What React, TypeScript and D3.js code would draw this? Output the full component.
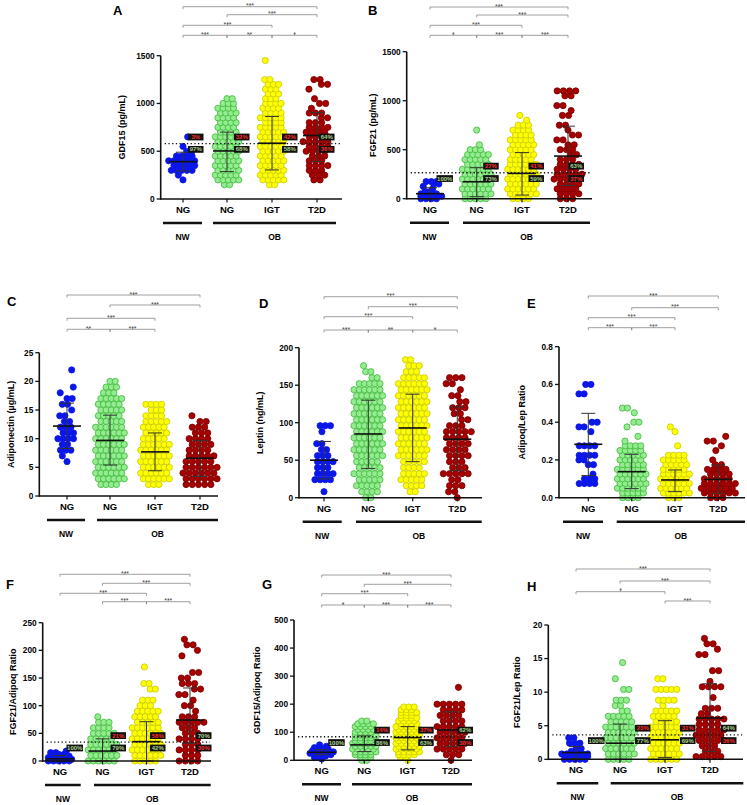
import React from 'react'
import * as d3 from 'd3'

type Rows = { start: number; step: number; counts: number[] }
type Sig = [number, number, string, number]

const FONT = '"Liberation Sans", Arial, Helvetica, sans-serif'
const GROUP_LABELS = ['NG', 'NG', 'IGT', 'T2D']
const DOT_FILL = ['#0b16e8', '#93ec8f', '#ffff00', '#a60000']
const DOT_STROKE = ['#0b16e8', '#3fb83a', '#c8c800', '#7a0000']
const RED_TXT = '#ff2b2b'
const GREEN_TXT = '#a9d18e'

// horizontal gap between dots in a row, per group
const SPACING = [5.2, 5.2, 5.2, 6.2]
const R = 3.1
// horizontal nudges for rows holding only one or two dots
const SPARSE = [0, -0.9, 0.9, -0.4, 0.5, -1.3, 1.2]

// ---- A: GDF15 (pg/mL) ----
const gdf15Rows: Rows[] = [
  { start: 200, step: 50, counts: [1, 1, 5, 5, 6, 4, 2, 1, 0, 1] },
  { start: 150, step: 50, counts: [2, 5, 5, 5, 5, 5, 5, 5, 5, 5, 5, 4, 4, 4, 4, 4, 4, 3, 2] },
  { start: 150, step: 50, counts: [2, 5, 5, 5, 5, 5, 5, 5, 5, 5, 5, 5, 5, 4, 5, 4, 4, 4, 3, 3, 3, 3, 2, 0, 0, 0, 1] },
  { start: 200, step: 50, counts: [2, 3, 3, 4, 3, 3, 4, 4, 5, 4, 4, 4, 3, 2, 3, 1, 2, 1, 0, 1, 2, 2] },
]
const gdf15Mid = [391, 503, 584, 664]
const gdf15Lo = [294, 287, 304, 392]
const gdf15Hi = [490, 700, 864, 906]
const gdf15Cut = 580
const gdf15Pct = [['3%', '97%'], ['32%', '68%'], ['42%', '58%'], ['64%', '36%']]
const gdf15Sig: Sig[] = [[0, 3, '***', 0], [1, 3, '***', 1], [0, 2, '***', 2], [0, 1, '***', 3], [1, 2, '**', 3], [2, 3, '*', 3]]

// ---- B: FGF21 (pg/mL) ----
const fgf21Rows: Rows[] = [
  { start: 0, step: 25, counts: [4, 5, 4, 2, 1, 1, 2, 3] },
  { start: 0, step: 50, counts: [5, 6, 6, 6, 6, 6, 6, 5, 5, 5, 3, 1, 0, 0, 1] },
  { start: 0, step: 50, counts: [4, 6, 6, 6, 6, 6, 6, 6, 5, 5, 5, 5, 5, 4, 4, 3, 1, 1] },
  { start: 0, step: 50, counts: [3, 4, 4, 4, 5, 5, 4, 4, 3, 2, 3, 2, 2, 2, 1, 2, 0, 2, 1, 2, 0, 2, 4] },
]
const fgf21Mid = [51, 173, 258, 435]
const fgf21Lo = [0, 20, 37, 135]
const fgf21Hi = [112, 316, 470, 740]
const fgf21Cut = 265
const fgf21Pct = [['', '100%'], ['27%', '73%'], ['41%', '59%'], ['63%', '37%']]
const fgf21Sig: Sig[] = [[0, 3, '***', 0], [1, 3, '***', 1], [0, 2, '***', 2], [0, 1, '*', 3], [1, 2, '***', 3], [2, 3, '***', 3]]

// ---- C: Adiponectin (µg/mL) ----
const adipoRows: Rows[] = [
  { start: 6, step: 1, counts: [1, 1, 3, 2, 4, 3, 3, 2, 2, 1, 2, 2, 1, 1, 0, 0, 1] },
  { start: 2, step: 1, counts: [4, 6, 6, 6, 6, 6, 6, 6, 6, 6, 6, 5, 5, 5, 5, 5, 3, 3, 2] },
  { start: 2, step: 1, counts: [3, 6, 6, 6, 6, 6, 6, 6, 5, 5, 5, 5, 4, 3, 4] },
  { start: 2, step: 1, counts: [5, 6, 6, 6, 5, 5, 4, 4, 4, 3, 3, 2, 1] },
]
const adipoMid = [12.2, 9.7, 7.7, 6.6]
const adipoLo = [8.3, 5.4, 4.4, 3.4]
const adipoHi = [16.2, 14.1, 11.0, 9.7]
const adipoSig: Sig[] = [[0, 3, '***', 0], [1, 3, '***', 1], [0, 2, '***', 2], [0, 1, '**', 3], [1, 2, '***', 3]]

// ---- D: Leptin (ng/mL) ----
const leptinRows: Rows[] = [
  { start: 8, step: 8, counts: [1, 0, 4, 4, 3, 4, 3, 2, 2, 0, 1, 3] },
  { start: 0, step: 8, counts: [2, 4, 5, 5, 6, 5, 5, 6, 6, 6, 6, 6, 6, 6, 6, 6, 6, 6, 6, 5, 2, 2, 1] },
  { start: 8, step: 8, counts: [2, 4, 5, 5, 4, 5, 6, 6, 6, 6, 6, 6, 6, 6, 6, 6, 6, 6, 6, 5, 3, 3, 2] },
  { start: 0, step: 8, counts: [1, 2, 3, 2, 5, 3, 3, 4, 4, 4, 4, 5, 3, 2, 2, 3, 2, 2, 1, 2, 3] },
]
const leptinMid = [50, 85, 93, 78]
const leptinLo = [25, 39, 48, 36]
const leptinHi = [75, 130, 138, 121]
const leptinSig: Sig[] = [[0, 3, '***', 0], [1, 3, '***', 1], [0, 2, '***', 2], [0, 1, '***', 3], [1, 2, '**', 3], [2, 3, '*', 3]]

// ---- E: Adipoq/Lep Ratio ----
const alRows: Rows[] = [
  { start: 0.075, step: 0.025, counts: [4, 3, 1, 0, 2, 2, 4, 0, 4, 0, 0, 1, 2, 2, 0, 0, 0, 0, 0, 2, 0, 2] },
  { start: 0, step: 0.025, counts: [4, 5, 6, 6, 6, 6, 6, 5, 5, 5, 5, 4, 1, 1, 0, 1, 2, 0, 1, 2] },
  { start: 0, step: 0.025, counts: [3, 6, 6, 6, 6, 6, 5, 5, 5, 4, 0, 1, 0, 0, 1, 1] },
  { start: 0, step: 0.025, counts: [3, 6, 6, 6, 5, 4, 4, 2, 1, 0, 1, 1, 2, 1] },
]
const alMid = [0.283, 0.138, 0.094, 0.097]
const alLo = [0.117, 0.048, 0.032, 0.023]
const alHi = [0.447, 0.23, 0.147, 0.173]
const alSig: Sig[] = [[0, 3, '***', 0], [1, 3, '***', 1], [0, 2, '***', 2], [0, 1, '***', 3], [1, 2, '***', 3]]

// ---- F: FGF21/Adipoq Ratio ----
const faRows: Rows[] = [
  { start: 0, step: 3, counts: [5, 5, 5, 4, 3, 2, 1] },
  { start: 0, step: 10, counts: [6, 6, 6, 6, 5, 5, 4, 3, 1] },
  { start: 0, step: 10, counts: [5, 6, 6, 6, 6, 6, 6, 5, 5, 5, 3, 3, 0, 2, 2, 0, 0, 1] },
  { start: 0, step: 10, counts: [4, 3, 4, 3, 4, 3, 3, 5, 3, 1, 2, 1, 2, 2, 3, 2, 2, 0, 0, 1, 1, 2, 1] },
]
const faMid = [4, 18, 35, 74]
const faLo = [0, 0, 0, 32]
const faHi = [10, 40, 71, 132]
const faCut = 34
const faPct = [['', '100%'], ['21%', '79%'], ['58%', '42%'], ['70%', '30%']]
const faSig: Sig[] = [[0, 3, '***', 0], [1, 3, '***', 1], [0, 2, '***', 2], [1, 2, '***', 3], [2, 3, '***', 3]]

// ---- G: GDF15/Adipoq Ratio ----
const gaRows: Rows[] = [
  { start: 5, step: 5, counts: [1, 2, 3, 4, 5, 5, 4, 3, 2, 1, 1] },
  { start: 0, step: 10, counts: [2, 3, 4, 5, 5, 5, 5, 5, 4, 5, 4, 4, 4, 4, 2] },
  { start: 0, step: 10, counts: [1, 2, 4, 5, 5, 5, 5, 5, 5, 5, 5, 5, 5, 4, 4, 4, 3, 4, 3, 3] },
  { start: 0, step: 20, counts: [1, 3, 5, 5, 5, 5, 5, 4, 4, 4, 5, 0, 0, 1] },
]
const gaMid = [28.5, 55, 81, 108]
const gaLo = [20, 31, 37, 49]
const gaHi = [38, 87, 120, 173]
const gaCut = 84
const gaPct = [['', '100%'], ['14%', '86%'], ['37%', '63%'], ['62%', '38%']]
const gaSig: Sig[] = [[0, 3, '***', 0], [1, 3, '***', 1], [0, 2, '***', 2], [0, 1, '*', 3], [1, 2, '***', 3], [2, 3, '***', 3]]

// ---- H: FGF21/Lep Ratio ----
const flRows: Rows[] = [
  { start: 0, step: 0.4, counts: [5, 5, 6, 2, 2, 0, 3, 0, 2] },
  { start: 0, step: 0.8, counts: [5, 6, 6, 6, 6, 6, 6, 5, 5, 2, 2, 3, 0, 2, 0, 1, 0, 0, 1] },
  { start: 0, step: 0.8, counts: [6, 6, 6, 6, 6, 6, 6, 5, 5, 5, 1, 4, 0, 5, 0, 2] },
  { start: 0.4, step: 0.8, counts: [5, 3, 3, 5, 5, 5, 4, 5, 2, 3, 0, 1, 0, 4, 1, 0, 2, 0, 0, 2, 1, 2, 1] },
]
const flMid = [1.0, 2.4, 2.9, 6.15]
const flLo = [0.1, 0, 0.25, 1.15]
const flHi = [1.9, 5.25, 5.75, 11.25]
const flCut = 3.65
const flPct = [['', '100%'], ['23%', '77%'], ['31%', '69%'], ['64%', '36%']]
const flSig: Sig[] = [[0, 3, '***', 0], [1, 3, '***', 1], [0, 2, '*', 2], [2, 3, '***', 3]]

type PanelDef = {
  letter: string
  title: string
  max: number
  tick: number
  fmt?: (v: number) => string
  rows: Rows[]
  mid: number[]
  lo: number[]
  hi: number[]
  cut?: number
  pct?: string[][]
  sig: Sig[]
  ax: number
  y0: number
  yTop: number
  cx: number[]
  xEnd: number
  nw: [number, number]
  ob: [number, number]
  letterPos: [number, number]
  titleX: number
  sigY: number[]
  boxDx?: number[]
}

const PANELS: PanelDef[] = [
  {
    letter: 'A', title: 'GDF15 (pg/mL)', max: 1500, tick: 500,
    rows: gdf15Rows, mid: gdf15Mid, lo: gdf15Lo, hi: gdf15Hi, cut: gdf15Cut, pct: gdf15Pct, sig: gdf15Sig,
    ax: 160.7, y0: 199, yTop: 55.7, cx: [183, 227, 272, 317], xEnd: 342,
    nw: [163, 202], ob: [213, 336], letterPos: [113, 15], titleX: 122,
    sigY: [6.7, 14.7, 25.3, 35.3], boxDx: [5, 7, 10, 2],
  },
  {
    letter: 'B', title: 'FGF21 (pg/mL)', max: 1500, tick: 500,
    rows: fgf21Rows, mid: fgf21Mid, lo: fgf21Lo, hi: fgf21Hi, cut: fgf21Cut, pct: fgf21Pct, sig: fgf21Sig,
    ax: 406.7, y0: 198.7, yTop: 51.7, cx: [430, 476.7, 522, 568], xEnd: 592,
    nw: [410, 449], ob: [463, 590], letterPos: [368, 15], titleX: 373,
    sigY: [7, 15, 25.3, 35.3], boxDx: [6.5, 6.5, 6.5, 0.5],
  },
  {
    letter: 'C', title: 'Adiponectin (µg/mL)', max: 25, tick: 5,
    rows: adipoRows, mid: adipoMid, lo: adipoLo, hi: adipoHi, sig: adipoSig,
    ax: 39.3, y0: 496, yTop: 352.7, cx: [67, 110, 155, 200], xEnd: 218,
    nw: [47, 85], ob: [97, 218], letterPos: [7, 306], titleX: 11,
    sigY: [295, 305, 318.3, 329.3],
  },
  {
    letter: 'D', title: 'Leptin (ng/mL)', max: 200, tick: 50,
    rows: leptinRows, mid: leptinMid, lo: leptinLo, hi: leptinHi, sig: leptinSig,
    ax: 299, y0: 497.7, yTop: 347.7, cx: [324, 368.3, 412.7, 457.3], xEnd: 482,
    nw: [302.7, 341.7], ob: [356, 481.7], letterPos: [259, 308], titleX: 260,
    sigY: [296.7, 306.7, 316.7, 330],
  },
  {
    letter: 'E', title: 'Adipoq/Lep Ratio', max: 0.8, tick: 0.2, fmt: d3.format('.1f'),
    rows: alRows, mid: alMid, lo: alLo, hi: alHi, sig: alSig,
    ax: 559, y0: 497.7, yTop: 346.7, cx: [588.3, 631.7, 675, 718.3], xEnd: 745,
    nw: [563, 603], ob: [616.7, 745], letterPos: [527, 308], titleX: 521.7,
    sigY: [296, 307.7, 317.7, 327.7],
  },
  {
    letter: 'F', title: 'FGF21/Adipoq Ratio', max: 250, tick: 50,
    rows: faRows, mid: faMid, lo: faLo, hi: faHi, cut: faCut, pct: faPct, sig: faSig,
    ax: 42.7, y0: 761, yTop: 622.7, cx: [60, 102.5, 146.5, 190], xEnd: 211,
    nw: [45, 80.7], ob: [94, 210.7], letterPos: [6, 589], titleX: 13,
    sigY: [574.3, 583.3, 593.3, 601.7], boxDx: [6.5, 8, 3.5, 6],
  },
  {
    letter: 'G', title: 'GDF15/Adipoq Ratio', max: 500, tick: 100,
    rows: gaRows, mid: gaMid, lo: gaLo, hi: gaHi, cut: gaCut, pct: gaPct, sig: gaSig,
    ax: 294, y0: 760.3, yTop: 620, cx: [321.7, 364.3, 407.7, 451], xEnd: 472,
    nw: [302, 341], ob: [352, 472], letterPos: [262, 589], titleX: 257,
    sigY: [575, 584.3, 593.7, 605], boxDx: [6.5, 10, 10.5, 6.5],
  },
  {
    letter: 'H', title: 'FGF21/Lep Ratio', max: 20, tick: 5,
    rows: flRows, mid: flMid, lo: flLo, hi: flHi, cut: flCut, pct: flPct, sig: flSig,
    ax: 548.3, y0: 759.3, yTop: 625, cx: [576, 620, 665, 710], xEnd: 743,
    nw: [556.7, 598.3], ob: [610.7, 743.3], letterPos: [527, 591], titleX: 517,
    sigY: [569, 581, 591.7, 601], boxDx: [12, 15, 15, 11],
  },
]

function Panel({ p }: { p: PanelDef }) {
  const y = d3.scaleLinear().domain([0, p.max]).range([p.y0, p.yTop])
  const ticks = d3.range(0, p.max + p.tick / 2, p.tick)
  const fmt = p.fmt ?? d3.format('d')

  const dots: { gi: number; x: number; y: number }[] = []
  p.rows.forEach((g, gi) => {
    const s = SPACING[gi]
    g.counts.forEach((n, i) => {
      const v = g.start + i * g.step
      const shift = n <= 2 ? SPARSE[i % SPARSE.length] * s : (i % 2 ? 0.25 : -0.25) * s
      for (let j = 0; j < n; j++) {
        dots.push({ gi, x: p.cx[gi] + (j - (n - 1) / 2) * s + shift, y: y(v) })
      }
    })
  })

  const cutY = p.cut != null ? y(p.cut) : 0

  return (
    <g>
      <text x={p.letterPos[0]} y={p.letterPos[1]} fontSize={13} fontWeight="bold">{p.letter}</text>

      {/* significance brackets */}
      {p.sig.map(([a, b, label, row], k) => {
        const yy = p.sigY[row]
        const x1 = p.cx[a], x2 = p.cx[b], mx = (x1 + x2) / 2
        return (
          <g key={k}>
            <path d={`M${x1},${yy + 2.5}V${yy}H${x2}V${yy + 2.5}`} fill="none" stroke="#777" strokeWidth={0.7} />
            <line x1={mx} x2={mx} y1={yy} y2={yy - 1.4} stroke="#777" strokeWidth={0.7} />
            <text x={mx} y={yy + 1.6} fontSize={7} textAnchor="middle" fill="#444">{label}</text>
          </g>
        )
      })}

      {/* dots */}
      {dots.map((d, k) => (
        <circle key={k} cx={d.x} cy={d.y} r={R} fill={DOT_FILL[d.gi]} stroke={DOT_STROKE[d.gi]} strokeWidth={0.8} />
      ))}

      {/* centre line and spread */}
      {p.cx.map((cx, gi) => (
        <g key={gi}>
          <line x1={cx} x2={cx} y1={y(p.lo[gi])} y2={y(p.hi[gi])} stroke="#333" strokeWidth={1} />
          <line x1={cx - 7} x2={cx + 7} y1={y(p.hi[gi])} y2={y(p.hi[gi])} stroke="#333" strokeWidth={1} />
          <line x1={cx - 7} x2={cx + 7} y1={y(p.lo[gi])} y2={y(p.lo[gi])} stroke="#333" strokeWidth={1} />
          <line x1={cx - 14} x2={cx + 14} y1={y(p.mid[gi])} y2={y(p.mid[gi])} stroke="#111" strokeWidth={1.6} />
        </g>
      ))}

      {/* cut-off line and percentage tags */}
      {p.cut != null && (
        <line x1={p.ax + 4} x2={p.xEnd - 1} y1={cutY} y2={cutY} stroke="#111" strokeWidth={1.3} strokeDasharray="1.3 2.4" />
      )}
      {p.pct && p.pct.map((pair, gi) => {
        const bx = p.cx[gi] + (p.boxDx ? p.boxDx[gi] : 6)
        const swap = gi === 3
        return (
          <g key={gi}>
            {pair.map((txt, k) => {
              if (!txt) return null
              const w = txt.length > 3 ? 16.5 : 15.5
              const top = k === 0 ? cutY - 10 : cutY + 2.4
              const red = k === 0 ? !swap : swap
              return (
                <g key={k}>
                  <rect x={bx} y={top} width={w} height={6.8} fill="#111" />
                  <text x={bx + w / 2} y={top + 5.4} fontSize={6} fontWeight="bold" textAnchor="middle" fill={red ? RED_TXT : GREEN_TXT}>{txt}</text>
                </g>
              )
            })}
          </g>
        )
      })}

      {/* axes */}
      <line x1={p.ax} x2={p.ax} y1={p.y0 + 0.8} y2={p.yTop} stroke="#111" strokeWidth={1.6} />
      <line x1={p.ax} x2={p.xEnd} y1={p.y0} y2={p.y0} stroke="#111" strokeWidth={1.6} />
      {ticks.map(t => (
        <g key={t}>
          <line x1={p.ax - 4} x2={p.ax} y1={y(t)} y2={y(t)} stroke="#111" strokeWidth={1.3} />
          <text x={p.ax - 6} y={y(t)} dy="0.35em" fontSize={8.3} fontWeight="bold" textAnchor="end">{fmt(t)}</text>
        </g>
      ))}
      {p.cx.map((cx, gi) => (
        <g key={gi}>
          <line x1={cx} x2={cx} y1={p.y0} y2={p.y0 + 3.5} stroke="#111" strokeWidth={1.2} />
          <text x={cx} y={p.y0 + 14} fontSize={9.5} fontWeight="bold" textAnchor="middle">{GROUP_LABELS[gi]}</text>
        </g>
      ))}
      <text transform={`translate(${p.titleX},${(p.y0 + p.yTop) / 2}) rotate(-90)`} dy="0.35em" fontSize={9} fontWeight="bold" textAnchor="middle">{p.title}</text>

      {/* weight-class bars */}
      <line x1={p.nw[0]} x2={p.nw[1]} y1={p.y0 + 24} y2={p.y0 + 24} stroke="#111" strokeWidth={2.4} />
      <line x1={p.ob[0]} x2={p.ob[1]} y1={p.y0 + 24} y2={p.y0 + 24} stroke="#111" strokeWidth={2.4} />
      <text x={(p.nw[0] + p.nw[1]) / 2} y={p.y0 + 41} fontSize={8.5} fontWeight="bold" textAnchor="middle">NW</text>
      <text x={(p.ob[0] + p.ob[1]) / 2} y={p.y0 + 41} fontSize={8.5} fontWeight="bold" textAnchor="middle">OB</text>
    </g>
  )
}

export default function App() {
  return (
    <div style={{ position: 'absolute', left: 0, top: 0 }}>
      <svg width={747} height={805} style={{ display: 'block', background: '#fff' }} fontFamily={FONT}>
        {PANELS.map(p => <Panel key={p.letter} p={p} />)}
      </svg>
    </div>
  )
}
